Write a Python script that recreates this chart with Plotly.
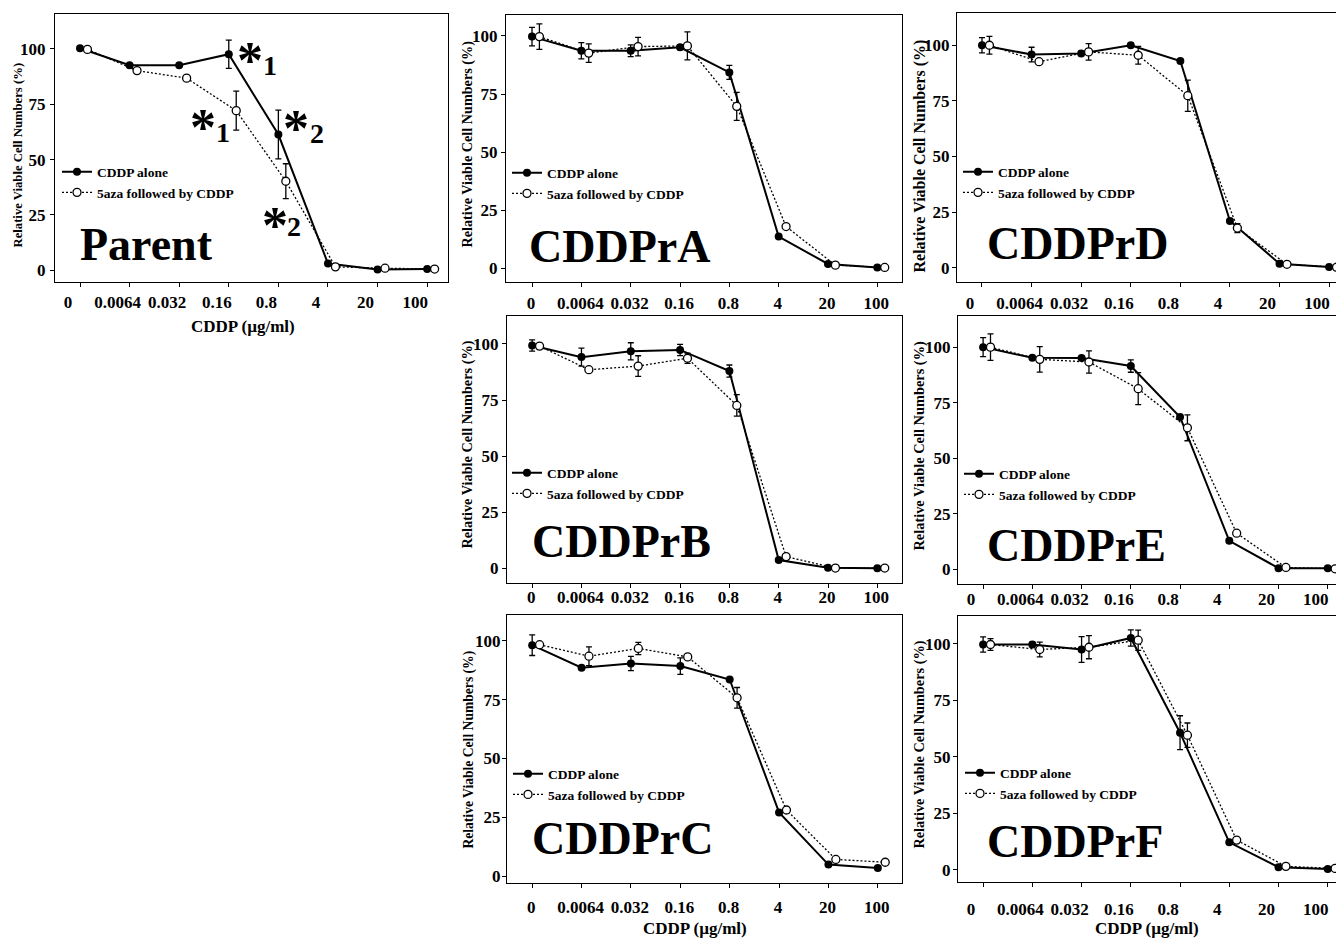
import plotly.graph_objects as go

# ---------------- data ----------------
doses = ["0", "0.0064", "0.032", "0.16", "0.8", "4", "20", "100"]
panel_names = ["Parent", "CDDPrA", "CDDPrD", "CDDPrB", "CDDPrE", "CDDPrC", "CDDPrF"]
series_names = ["CDDP alone", "5aza followed by CDDP"]

parent_alone = [100.3, 92.6, 92.6, 97.6, 61.3, 3.0, 0.3, 0.5]
parent_alone_err = [0, 0, 0, 6.4, 11.0, 0, 0, 0]
parent_aza = [99.8, 90.2, 86.8, 72.1, 40.2, 1.5, 0.9, 0.5]
parent_aza_err = [0, 0, 0, 8.8, 7.9, 0, 0, 0]

a_alone = [99.7, 93.6, 93.6, 95.1, 84.3, 13.7, 1.9, 0.4]
a_alone_err = [4.0, 3.5, 2.5, 1.0, 3.0, 0, 0, 0]
a_aza = [99.7, 92.6, 95.4, 95.7, 69.7, 18.0, 1.4, 0.4]
a_aza_err = [5.5, 4.0, 4.0, 6.0, 6.0, 0, 0, 0]

d_alone = [100.0, 95.8, 96.3, 100.0, 92.9, 21.0, 1.8, 0.3]
d_alone_err = [3.4, 3.3, 1.0, 0, 0, 1.0, 0, 0]
d_aza = [100.0, 92.6, 97.0, 95.5, 77.3, 17.8, 1.5, 0.2]
d_aza_err = [4.0, 0, 3.7, 4.0, 7.0, 2.0, 0, 0]

b_alone = [99.3, 94.1, 96.7, 97.3, 87.9, 3.8, 0.4, 0.1]
b_alone_err = [2.5, 4.0, 3.8, 2.5, 2.7, 0, 0, 0]
b_aza = [99.0, 88.5, 90.1, 93.6, 72.6, 5.3, 0.2, 0.2]
b_aza_err = [0, 0, 4.6, 2.3, 4.8, 0, 0, 0]

e_alone = [100.0, 95.2, 95.1, 91.5, 68.6, 12.9, 0.6, 0.6]
e_alone_err = [4.3, 0, 0, 2.8, 1.0, 0, 0, 0]
e_aza = [100.0, 94.5, 93.3, 81.3, 63.7, 16.3, 0.9, 0.3]
e_aza_err = [6.0, 5.7, 5.0, 7.2, 5.8, 0, 0, 0]

c_alone = [98.2, 88.6, 90.4, 89.3, 83.6, 27.1, 4.9, 3.4]
c_alone_err = [4.4, 0, 3.0, 3.5, 0, 0, 0, 0]
c_aza = [98.4, 93.5, 96.8, 93.2, 75.8, 28.1, 7.1, 5.9]
c_aza_err = [0, 4.0, 2.6, 0, 4.4, 0, 0, 0]

f_alone = [99.7, 99.7, 97.5, 102.6, 60.7, 12.2, 1.2, 0.4]
f_alone_err = [3.4, 1.0, 5.7, 3.6, 7.5, 0, 0, 0]
f_aza = [99.7, 97.5, 98.5, 101.6, 59.6, 13.2, 1.6, 0.7]
f_aza_err = [2.6, 3.3, 5.1, 4.5, 5.4, 0, 0, 0]

y_ticks = [0, 25, 50, 75, 100]

# ---------------- layout constants ----------------
PAGE_W, PAGE_H = 1344, 939
OFF = 8                      # default body margin of the page
W, H = PAGE_W - OFF, PAGE_H - OFF
SERIF = "Liberation Serif"
OPEN_OFFSET = 0.15


def px(xp):
    return (xp - OFF) / W


def py(yp):
    return 1 - (yp - OFF) / H


panel_data = {
    "Parent": (parent_alone, parent_alone_err, parent_aza, parent_aza_err),
    "CDDPrA": (a_alone, a_alone_err, a_aza, a_aza_err),
    "CDDPrD": (d_alone, d_alone_err, d_aza, d_aza_err),
    "CDDPrB": (b_alone, b_alone_err, b_aza, b_aza_err),
    "CDDPrE": (e_alone, e_alone_err, e_aza, e_aza_err),
    "CDDPrC": (c_alone, c_alone_err, c_aza, c_aza_err),
    "CDDPrF": (f_alone, f_alone_err, f_aza, f_aza_err),
}

# page-pixel box: left, top, right, bottom
boxes = {
    "Parent": (55, 14, 448, 283),
    "CDDPrA": (506, 15, 902, 283),
    "CDDPrD": (957, 13, 1344, 283),
    "CDDPrB": (507, 317, 902, 585),
    "CDDPrE": (958, 317, 1344, 586),
    "CDDPrC": (507, 617, 902, 886),
    "CDDPrF": (958, 618, 1344, 885),
}
xranges = {
    "Parent": [-0.504, 7.42], "CDDPrA": [-0.527, 7.5], "CDDPrD": [-0.504, 7.3],
    "CDDPrB": [-0.51, 7.5], "CDDPrE": [-0.51, 7.33], "CDDPrC": [-0.51, 7.49],
    "CDDPrF": [-0.51, 7.33],
}
yranges = {
    "Parent": [-5.4, 115.8], "CDDPrA": [-5.9, 109], "CDDPrD": [-6.5, 114.5],
    "CDDPrB": [-6.5, 112.4], "CDDPrE": [-6.6, 114], "CDDPrC": [-3, 111],
    "CDDPrF": [-5.4, 112.3],
}
xlabel_shift = {"Parent": -12, "CDDPrA": -1, "CDDPrD": -12, "CDDPrB": -1,
                "CDDPrE": -12, "CDDPrC": -1, "CDDPrF": -12}
xlabel_standoff = {"Parent": 0, "CDDPrA": 1, "CDDPrD": 1, "CDDPrB": -6,
                   "CDDPrE": -5, "CDDPrC": 4, "CDDPrF": 7}
ylabel_standoff = {"Parent": 1, "CDDPrA": 0, "CDDPrD": -1, "CDDPrB": 0,
                   "CDDPrE": -1, "CDDPrC": -2, "CDDPrF": -1}
right_border = {"Parent": True, "CDDPrA": True, "CDDPrD": False, "CDDPrB": True,
                "CDDPrE": False, "CDDPrC": True, "CDDPrF": False}
# legend: line start x, first item centre y (page pixels)
legend_pos = {
    "Parent": (62, 172), "CDDPrA": (512, 173), "CDDPrD": (963, 172),
    "CDDPrB": (512, 474), "CDDPrE": (964, 475), "CDDPrC": (513, 776),
    "CDDPrF": (965, 775),
}
# big label: left x, cap centre y
label_pos = {
    "Parent": (78, 245), "CDDPrA": (527, 247), "CDDPrD": (985, 244),
    "CDDPrB": (530, 543), "CDDPrE": (985, 547), "CDDPrC": (530, 841),
    "CDDPrF": (985, 844),
}
# y-axis title: centre x, centre y, font size
ytitle_pos = {
    "Parent": (18, 156, 12.7), "CDDPrA": (468, 145, 14.2), "CDDPrD": (920, 157, 16),
    "CDDPrB": (468, 446, 14.3), "CDDPrE": (920, 447, 14.4), "CDDPrC": (469, 752, 13.6),
    "CDDPrF": (920, 747, 14.3),
}
xtitle_pos = {"Parent": (243, 328), "CDDPrC": (695, 931), "CDDPrF": (1147, 931)}

fig = go.Figure()
layout = dict(
    width=W, height=H, margin=dict(l=0, r=0, t=0, b=0),
    paper_bgcolor="white", plot_bgcolor="white", showlegend=True,
    font=dict(family=SERIF, color="black"),
)
annotations = []

for k, name in enumerate(panel_names):
    sfx = "" if k == 0 else str(k + 1)
    xa, ya, lg = "x" + sfx, "y" + sfx, "legend" + sfx
    alone, alone_err, aza, aza_err = panel_data[name]
    xi = list(range(len(doses)))
    xo = [i + OPEN_OFFSET for i in xi]

    fig.add_trace(go.Scatter(
        x=xi, y=alone, name=series_names[0], mode="lines+markers",
        line=dict(color="black", width=2),
        marker=dict(symbol="circle", size=8, color="black"),
        error_y=dict(type="data", array=alone_err, visible=True,
                     color="black", thickness=1.3, width=3),
        xaxis=xa, yaxis=ya, legend=lg, legendgroup=name + "a", cliponaxis=False))
    fig.add_trace(go.Scatter(
        x=xo, y=aza, name=series_names[1], mode="lines+markers",
        line=dict(color="black", width=1.3, dash="2px,2px"),
        marker=dict(symbol="circle", size=8, color="white",
                    line=dict(color="black", width=1.3)),
        error_y=dict(type="data", array=aza_err, visible=True,
                     color="black", thickness=1.3, width=3),
        xaxis=xa, yaxis=ya, legend=lg, legendgroup=name + "b", cliponaxis=False))

    l, t, r, b = boxes[name]
    layout["xaxis" + sfx] = dict(
        domain=[px(l), min(px(r), 1.0)], range=xranges[name], anchor=ya,
        tickmode="array", tickvals=xi, ticktext=doses,
        ticks="outside", ticklen=4, tickwidth=1.2, tickcolor="black",
        showline=True, linecolor="black", linewidth=1.3, mirror=True,
        showgrid=False, zeroline=False,
        tickfont=dict(family=SERIF, size=17, color="black", weight="bold"),
        ticklabelshift=xlabel_shift[name], ticklabelstandoff=xlabel_standoff[name],
    )
    layout["yaxis" + sfx] = dict(
        domain=[py(b), py(t)], range=yranges[name], anchor=xa,
        tickmode="array", tickvals=y_ticks,
        ticks="outside", ticklen=4, tickwidth=1.2, tickcolor="black",
        showline=True, linecolor="black", linewidth=1.3,
        mirror=right_border[name],
        showgrid=False, zeroline=False,
        tickfont=dict(family=SERIF, size=17, color="black", weight="bold"),
        ticklabelstandoff=ylabel_standoff[name],
    )
    lx, ly = legend_pos[name]
    layout[lg] = dict(
        x=px(lx - 5), y=py(ly - 15), xanchor="left", yanchor="top",
        bgcolor="rgba(0,0,0,0)", borderwidth=0, traceorder="normal",
        font=dict(family=SERIF, size=13.5, color="black", weight="bold"),
        itemwidth=30, tracegroupgap=2,
    )
    bx, by = label_pos[name]
    annotations.append(dict(
        text=name, xref="paper", yref="paper", x=px(bx), y=py(by),
        xanchor="left", yanchor="middle", showarrow=False,
        font=dict(family=SERIF, size=46, color="black", weight="bold")))
    tx, ty, ts = ytitle_pos[name]
    annotations.append(dict(
        text="Relative Viable Cell Numbers (%)", xref="paper", yref="paper",
        x=px(tx), y=py(ty), xanchor="center", yanchor="middle",
        textangle=-90, showarrow=False,
        font=dict(family=SERIF, size=ts, color="black", weight="bold")))
    if name in xtitle_pos:
        tx, ty = xtitle_pos[name]
        annotations.append(dict(
            text="CDDP (µg/ml)", xref="paper", yref="paper",
            x=px(tx), y=py(ty), xanchor="center", yanchor="middle",
            showarrow=False,
            font=dict(family=SERIF, size=17, color="black", weight="bold")))

# significance marks in Parent panel, attached to the points they mark
marks = [
    # (series, dose index, x offset, digit, star shift, digit shift)
    (parent_alone, 3, 0.0, "1", (21, -6), (41, -11)),
    (parent_aza, 3, OPEN_OFFSET, "1", (-33, -17), (-13, -22)),
    (parent_alone, 4, 0.0, "2", (18, 6), (39, 1)),
    (parent_aza, 4, OPEN_OFFSET, "2", (-11, -44), (8, -45)),
]
for series, idx, off, digit, sshift, dshift in marks:
    annotations.append(dict(
        text="*", xref="x", yref="y", x=idx + off, y=series[idx],
        xshift=sshift[0], yshift=sshift[1], showarrow=False,
        xanchor="center", yanchor="middle",
        font=dict(family=SERIF, size=52, color="black", weight="bold")))
    annotations.append(dict(
        text=digit, xref="x", yref="y", x=idx + off, y=series[idx],
        xshift=dshift[0], yshift=dshift[1], showarrow=False,
        xanchor="center", yanchor="middle",
        font=dict(family=SERIF, size=28, color="black", weight="bold")))

layout["annotations"] = annotations
fig.update_layout(**layout)
fig.write_html("out.html")
